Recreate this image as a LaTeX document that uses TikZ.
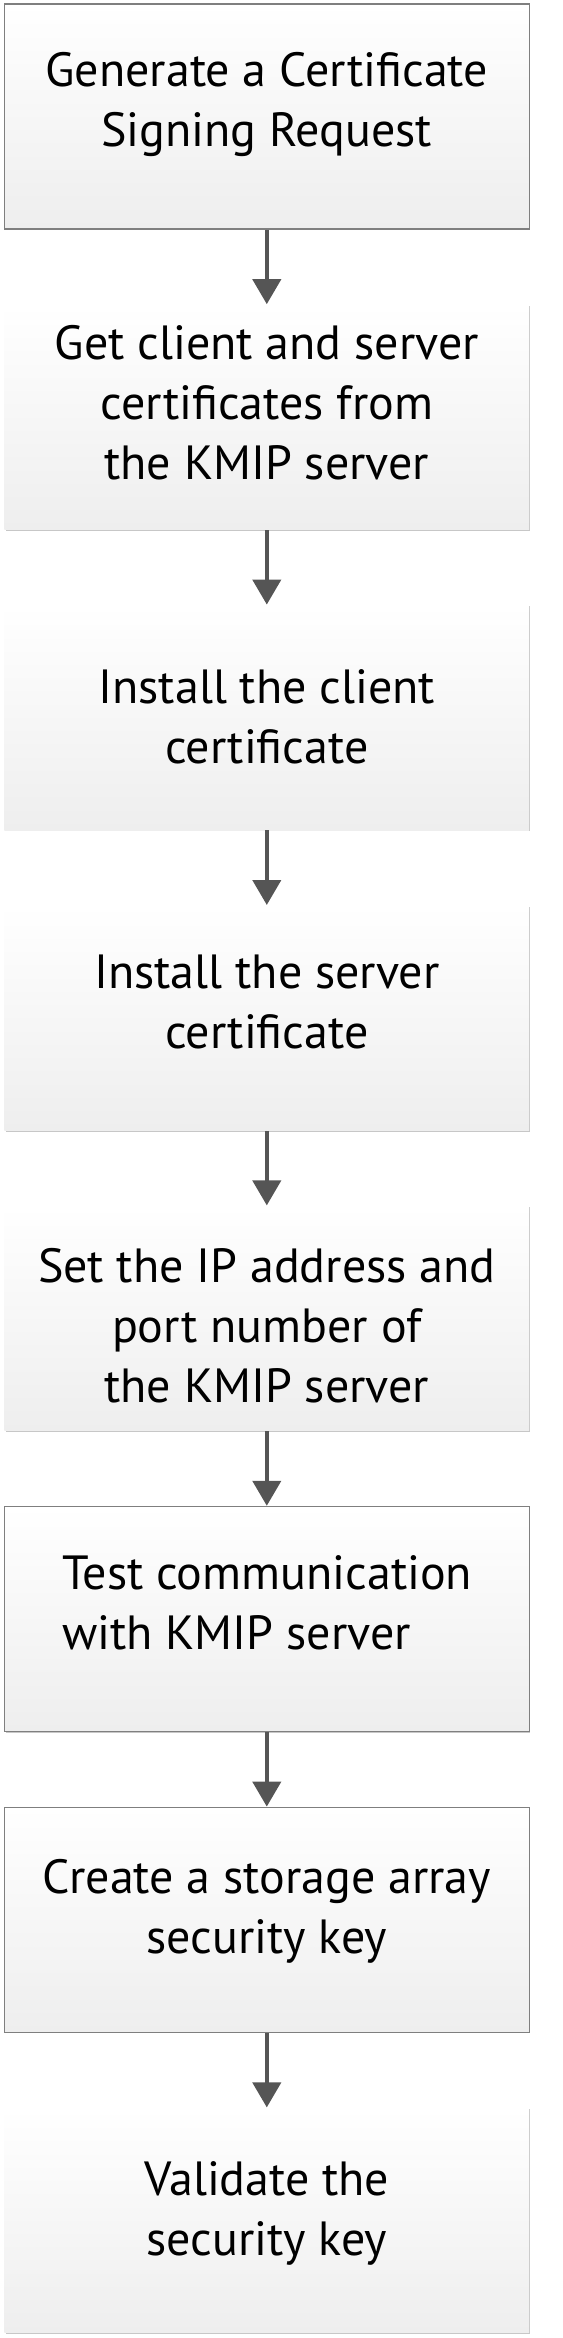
\documentclass[tikz,border=0pt]{standalone}
\usepackage{fontspec}
\setmainfont{PT Sans}
\usetikzlibrary{positioning,arrows.meta,shadows}

\definecolor{arrowgray}{HTML}{555555}
\definecolor{edgegray}{HTML}{7F7F7F}
\definecolor{fillgray}{HTML}{EEEEEE}

\begin{document}
\begin{tikzpicture}[
  node distance=37.3pt,
  stepbox/.style={rectangle, inner sep=0pt, minimum width=262.4pt, minimum height=112.5pt,
    top color=white, bottom color=fillgray,
    general shadow={shadow xshift=0.6pt, shadow yshift=-0.6pt, fill=black!22}},
  framed/.style={draw=edgegray, line width=0.6pt},
  steptext/.style={inner sep=0pt, align=center, font=\fontsize{24}{30}\selectfont},
  flow/.style={-{Triangle[width=14pt,length=12.5pt]}, draw=arrowgray, fill=arrowgray, line width=2.1pt}
]

\useasboundingbox (0,0) rectangle (281pt,-1169pt);

\node[stepbox,framed] (csr) at (133.4pt,-58.25pt) {};
\node[stepbox] (getcerts) [below=of csr] {};
\node[stepbox] (client) [below=of getcerts] {};
\node[stepbox] (server) [below=of client] {};
\node[stepbox] (address) [below=of server] {};
\node[stepbox,framed] (test) [below=of address] {};
\node[stepbox,framed] (createkey) [below=of test] {};
\node[stepbox] (validate) [below=of createkey] {};

\node[steptext] (csr text) at ([yshift=6.2pt]csr) {Generate a Certificate\\Signing Request};
\node[steptext] (getcerts text) at ([yshift=7.1pt]getcerts) {Get client and server\\certificates from\\the KMIP server};
\node[steptext] (client text) at ([yshift=0.6pt]client) {Install the client\\certificate};
\node[steptext] (server text) at ([yshift=8.1pt]server) {Install the server\\certificate};
\node[steptext] (address text) at ([yshift=-3.9pt]address) {Set the IP address and\\port number of\\the KMIP server};
\node[steptext, align=left, anchor=west] (test text) at ([xshift=29pt,yshift=8.1pt]test.west) {Test communication\\with KMIP server};
\node[steptext] (createkey text) at ([yshift=4.2pt]createkey) {Create a storage array\\security key};
\node[steptext] (validate text) at ([yshift=3.2pt]validate) {Validate the\\security key};

\draw[flow] (csr) -- (getcerts);
\draw[flow] (getcerts) -- (client);
\draw[flow] (client) -- (server);
\draw[flow] (server) -- (address);
\draw[flow] (address) -- (test);
\draw[flow] (test) -- (createkey);
\draw[flow] (createkey) -- (validate);

\end{tikzpicture}
\end{document}
